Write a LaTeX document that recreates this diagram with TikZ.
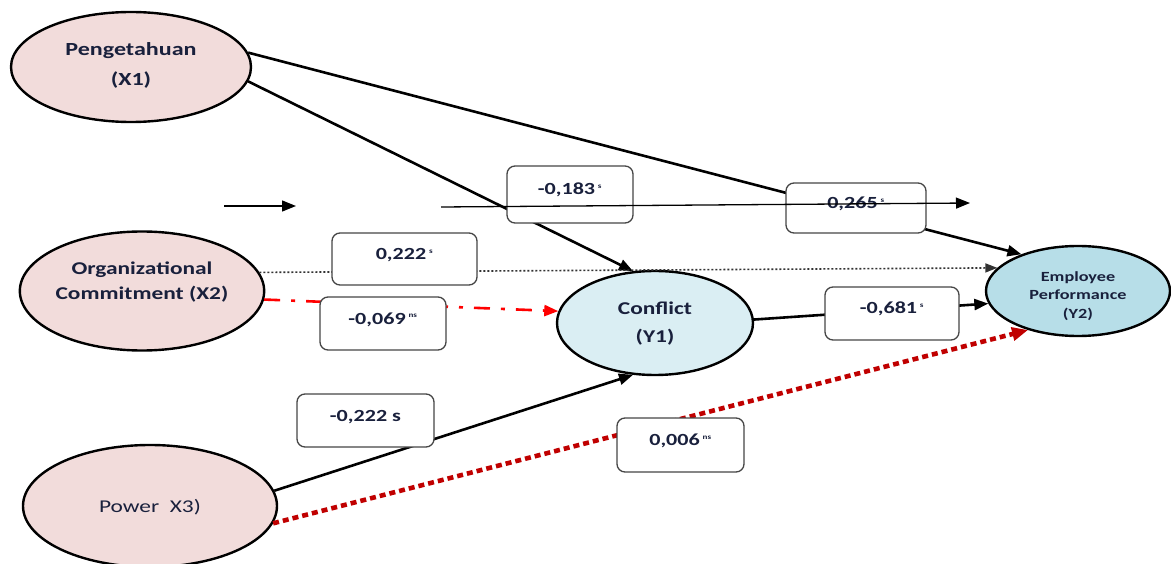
\documentclass[tikz,border=0pt]{standalone}
\usepackage{fontspec}
\setmainfont{Carlito}[FakeStretch=1.3]
\usetikzlibrary{arrows.meta,shapes.geometric}
\definecolor{txt}{RGB}{25,32,60}
\definecolor{pinkfill}{RGB}{242,220,219}
\definecolor{lightblue}{RGB}{218,238,243}
\definecolor{midblue}{RGB}{183,222,232}
\definecolor{boxgray}{RGB}{70,70,70}
\definecolor{brightred}{RGB}{255,0,0}
\definecolor{darkred}{RGB}{192,0,0}
\definecolor{dotgray}{RGB}{50,50,50}
\tikzset{
  latent/.style={ellipse, draw=black, line width=2.4pt, inner sep=0pt, text=txt, align=center},
  exo/.style={latent, fill=pinkfill},
  coef/.style={draw=boxgray, fill=white, rounded corners=8pt, line width=1.3pt, inner sep=0pt,
     text=txt, font=\fontsize{17}{18}\selectfont\bfseries, text height=7pt, text depth=6pt},
  arr/.style={line width=2.6pt, -{Triangle[length=14pt,width=11pt]}},
  thinarr/.style={line width=1.3pt, -{Triangle[length=14pt,width=11pt]}},
  dotarr/.style={line width=1.6pt, draw=dotgray, dash pattern=on 2pt off 2pt, -{Triangle[length=12pt,width=9pt,fill=dotgray]}},
  dasharr/.style={line width=2.6pt, draw=brightred, dash pattern=on 16pt off 11pt on 4pt off 11pt, -{Triangle[length=14pt,width=11pt]}},
  reddotarr/.style={line width=4.6pt, draw=darkred, dash pattern=on 6pt off 4pt, -{Triangle[length=16pt,width=13pt]}},
}
\newcommand{\sgn}[1]{\textsuperscript{\fontsize{7}{7}\selectfont #1}}
\newcommand{\shiftlbl}[2]{\raisebox{#1}[\height][\depth]{\begin{tabular}{@{}c@{}}#2\end{tabular}}}
\begin{document}
\begin{tikzpicture}[x=1pt,y=-1pt]
\useasboundingbox (0,0) rectangle (1171,564);
\clip (0,0) rectangle (1171,564);

\node[exo, minimum width=240pt, minimum height=110pt, font=\fontsize{18.5}{30}\selectfont\bfseries] (x1) at (131,67) {\shiftlbl{2pt}{Pengetahuan\\(X1)}};
\node[exo, minimum width=240pt, minimum height=119pt, font=\fontsize{18}{25}\selectfont\bfseries] (x2) at (142,291) {\shiftlbl{9pt}{Organizational\\Commitment (X2)}};
\node[exo, minimum width=254pt, minimum height=122pt, font=\fontsize{18}{20}\selectfont] (x3) at (150,506) {\shiftlbl{-2pt}{Power\ \ X3)}};
\node[latent, fill=lightblue, minimum width=196pt, minimum height=104pt, font=\fontsize{18}{28}\selectfont\bfseries] (y1) at (655,323) {\shiftlbl{0pt}{Conflict\\(Y1)}};
\node[latent, fill=midblue, minimum width=184pt, minimum height=90pt, font=\fontsize{14}{18.5}\selectfont\bfseries] (y2) at (1078,291) {\shiftlbl{-5pt}{Employee\\Performance\\(Y2)}};

% connectors under boxes
\draw[arr] (x1.7) -- (y2.147);
\draw[arr] (x1.-7) -- (y1.113);
\draw[dotarr] (x2.9) -- (y2.164);
\draw[dasharr] (x2.-4) -- (y1.173);
\draw[arr] (x3.7) -- (y1.-113);
\draw[reddotarr] (x3.-8) -- (y2.-142);
\draw[arr] (y1.2) -- (y2.-172);

% coefficient boxes
\node[coef, minimum width=126pt, minimum height=57pt] (b183) at (570,194.5) {-0,183\,\sgn{s}};
\node[coef, minimum width=140pt, minimum height=50pt] (b265) at (856,208) {0,265\,\sgn{s}};
\node[coef, minimum width=145pt, minimum height=52pt] (b222) at (404.5,259) {0,222\,\sgn{s}};
\node[coef, minimum width=126pt, minimum height=53pt] (b069) at (383,323.5) {-0,069\,\sgn{ns}};
\node[coef, minimum width=134pt, minimum height=53pt] (b681) at (892,313.5) {-0,681\,\sgn{s}};
\node[coef, minimum width=127pt, minimum height=54pt] (b006) at (680.5,445) {0,006\,\sgn{ns}};
\node[coef, minimum width=137pt, minimum height=53pt] (b222s) at (365.5,420.5) {-0,222 s};

% thin arrows on top
\coordinate (t1s) at (441,207);
\coordinate (t1e) at (970,203);
\coordinate (t2s) at (224,206);
\coordinate (t2e) at (296,206);
\draw[thinarr] (t1s) -- (t1e);
\draw[thinarr] (t2s) -- (t2e);
\end{tikzpicture}
\end{document}
